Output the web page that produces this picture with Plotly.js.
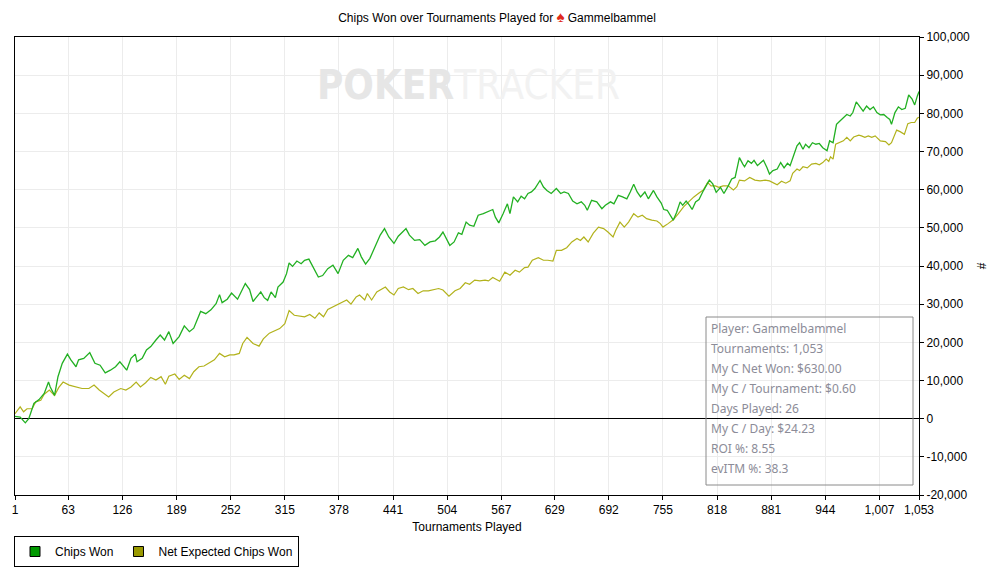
<!DOCTYPE html>
<html>
<head>
<meta charset="utf-8">
<script src="https://cdn.plot.ly/plotly-3.0.1.min.js"></script>
<style>
  html, body { margin: 0; padding: 0; background: #fff; }
</style>
</head>
<body>
<div id="chart" style="width:990px;height:580px;"></div>
<script>
// tournaments played (x) and chips won, in thousands
const chipsT = [
  1, 7, 13, 17, 19, 23, 29, 35, 40, 42,
  47, 51, 56, 62, 66, 72, 75, 81, 88, 94,
  100, 106, 112, 118, 123, 131, 136, 141, 143, 149,
  154, 159, 165, 170, 175, 180, 185, 192, 198, 204,
  209, 217, 223, 229, 235, 239, 242, 248, 253, 260,
  269, 274, 278, 282, 287, 291, 295, 299, 304, 307,
  313, 317, 320, 324, 329, 334, 338, 343, 348, 354,
  359, 365, 371, 377, 383, 389, 394, 400, 404, 409,
  414, 420, 426, 431, 436, 442, 447, 452, 456, 460,
  466, 472, 478, 484, 490, 495, 499, 507, 512, 517,
  521, 526, 530, 535, 540, 546, 551, 557, 560, 564,
  569, 574, 577, 581, 586, 590, 594, 598, 602, 606,
  612, 616, 620, 625, 631, 636, 640, 645, 650, 655,
  660, 664, 667, 672, 678, 684, 688, 694, 698, 703,
  708, 713, 717, 721, 725, 729, 734, 738, 744, 748,
  753, 756, 760, 764, 767, 771, 775, 778, 782, 786,
  789, 793, 797, 802, 809, 813, 817, 822, 826, 831,
  835, 839, 844, 848, 850, 854, 858, 861, 865, 868,
  872, 876, 879, 883, 888, 892, 896, 900, 903, 907,
  911, 914, 918, 921, 925, 929, 933, 937, 941, 946,
  949, 953, 957, 961, 965, 969, 973, 976, 980, 984,
  988, 992, 996, 1000, 1004, 1008, 1012, 1016, 1019, 1021,
  1025, 1029, 1033, 1037, 1041, 1045, 1048, 1051, 1053
];
const chipsWonK = [
  0.6, 0.4, -1.1, 0, 1.3, 4, 5, 6.6, 9.6, 8.3,
  6.1, 11, 14.5, 16.9, 15.4, 13.6, 15.4, 15.8, 17.3, 14.5,
  14, 12, 12.7, 13.6, 14.9, 12.7, 15.8, 16.9, 14.9, 15.8,
  18, 18.9, 20.6, 21.9, 20.6, 22.8, 19.7, 21.5, 24.3, 22.8,
  23.7, 28.1, 27.5, 28.5, 30.1, 32.5, 30.4, 31.3, 32.9, 31.3,
  35.4, 33.8, 30.7, 31.9, 33.2, 31.7, 31, 33.2, 31.7, 34.5,
  35.8, 38, 40.8, 39.9, 41.3, 40.6, 41.5, 41.8, 39.7, 37.1,
  37.5, 39.3, 40.2, 38, 41.5, 42.8, 42.2, 44.6, 42.4, 40.5,
  42, 45.2, 48.1, 49.8, 47.6, 45.9, 47.8, 48.9, 49.8, 48.1,
  46.7, 46.9, 45.4, 46.3, 46.6, 47.6, 48.9, 45.4, 46.3, 48.7,
  48.3, 51.5, 50.7, 50.4, 53.3, 53.7, 54.2, 54.8, 52.8, 51.3,
  53.7, 56.3, 53.7, 58.1, 56.8, 58.3, 57.6, 59, 59.4, 60.3,
  62.4, 60.7, 59.8, 59, 60.3, 59, 59.4, 59, 57, 56.3,
  56.8, 55.9, 54.6, 57.2, 56.8, 55, 55.9, 56.8, 56.3, 58.5,
  58.1, 57.6, 59.4, 61.4, 59.4, 58.1, 59.4, 57.6, 59.8, 58.1,
  56.5, 54.8, 54.6, 53.3, 52, 54.1, 56.8, 55.9, 57, 55.9,
  54.8, 56.8, 57.4, 59.7, 62.5, 61.5, 59.3, 60.6, 59, 61,
  62.8, 63.2, 68.4, 66.7, 66, 67.6, 66.9, 67.7, 66.3, 66.9,
  67.7, 65.8, 64.1, 65, 65.4, 67.1, 65.7, 66.9, 66.3, 68.9,
  71.5, 72.3, 70.6, 71.9, 71, 72.3, 71.9, 72.1, 71, 70.2,
  72.8, 72.3, 77.1, 78, 78.9, 79.7, 79.3, 80.2, 83, 81.9,
  80.6, 81.9, 81, 81.7, 80.2, 79.6, 79.7, 78.9, 78.4, 77.1,
  80.2, 81.7, 81, 81.3, 84.8, 83.7, 82.2, 84.5, 85.7
];

// net expected chips won, in thousands
const evT = [
  1, 7, 11, 15, 21, 25, 31, 35, 41, 47,
  52, 57, 64, 72, 79, 87, 93, 99, 105, 110,
  116, 124, 130, 136, 142, 147, 153, 159, 165, 171,
  176, 180, 187, 192, 198, 204, 209, 215, 221, 227,
  233, 239, 245, 251, 256, 262, 266, 271, 278, 285,
  290, 297, 303, 309, 315, 320, 326, 332, 338, 344,
  350, 355, 360, 365, 371, 376, 381, 387, 392, 398,
  402, 408, 411, 416, 422, 427, 432, 437, 442, 447,
  453, 459, 464, 470, 476, 482, 488, 494, 499, 506,
  513, 519, 525, 530, 536, 542, 548, 552, 557, 565,
  571, 577, 583, 588, 594, 598, 603, 610, 616, 621,
  627, 631, 637, 643, 649, 655, 659, 663, 668, 674,
  680, 686, 691, 697, 700, 705, 710, 715, 721, 726,
  731, 736, 742, 748, 752, 755, 761, 767, 773, 779,
  785, 791, 797, 802, 807, 811, 816, 820, 825, 831,
  837, 841, 844, 850, 856, 862, 868, 874, 879, 883,
  888, 893, 898, 903, 906, 911, 914, 918, 923, 928,
  933, 937, 941, 945, 948, 950, 953, 956, 960, 965,
  969, 973, 977, 983, 986, 990, 994, 998, 1002, 1008,
  1014, 1018, 1021, 1027, 1031, 1036, 1040, 1044, 1048, 1051, 1053
];
const evChipsK = [
  1.3, 3.1, 1.8, 2.6, 2.6, 4.4, 4.8, 6.4, 7.5, 6.1,
  8.2, 9.6, 8.8, 8.3, 7.9, 7.9, 8.8, 7.5, 6.6, 5.7,
  7, 7.9, 7.5, 8.3, 9.6, 8.3, 9.4, 10.8, 10.1, 11,
  9, 11.1, 11.7, 10.3, 11.4, 10.5, 12.3, 13.6, 13.8, 14.5,
  15.4, 17.1, 16.2, 16.7, 16.7, 17.1, 19.7, 21.3, 19.7, 19,
  20.9, 22.4, 23, 23.6, 24.9, 28.3, 27.1, 26.9, 26.7, 27.3,
  26.3, 27.7, 26.7, 28.6, 29.3, 29.7, 30.4, 31.1, 30, 31.9,
  32.4, 31.1, 32.8, 31.1, 33.2, 33.8, 34.5, 33.2, 32.4, 34.1,
  34.5, 33.8, 34.1, 32.8, 33.5, 33.5, 33.7, 34.1, 33.7, 32.1,
  33.5, 34.1, 35.6, 35.2, 36.3, 36.1, 36.3, 36.1, 37, 36,
  38.4, 37.6, 38.9, 38.4, 39.6, 39.7, 41.5, 42.2, 41.5, 41.5,
  41.3, 44.1, 44.1, 44.8, 46.3, 47.2, 46.7, 47.6, 46.3, 48.6,
  50.2, 49.8, 48.9, 47.6, 49.3, 51.5, 50.2, 51.5, 53.7, 52.8,
  53.3, 52.4, 52, 51.8, 51.1, 50.2, 51.1, 52.1, 53.7, 55.5,
  56.8, 58.1, 59.1, 59.9, 61.9, 61, 61, 60.6, 61, 61,
  59.9, 60.8, 62.5, 62.3, 63.2, 62.5, 62.3, 62.5, 62.3, 61.9,
  61.3, 62.2, 61.7, 62.3, 64.3, 65.4, 65, 66, 65.7, 66.7,
  66.9, 66.5, 67.1, 68, 67.4, 68.6, 68, 71.9, 72.3, 72.8,
  73.7, 72.8, 73.8, 74.3, 74.1, 73.7, 74.1, 73.7, 74.1, 72.8,
  72.6, 71.7, 72.3, 75.6, 75.2, 74.5, 77.3, 77.6, 77.6, 78.7, 79
];

const xTickVals = [1, 63, 126, 189, 252, 315, 378, 441, 504, 567, 629, 692, 755, 818, 881, 944, 1007, 1053];
const xTickText = ["1", "63", "126", "189", "252", "315", "378", "441", "504", "567", "629", "692", "755", "818", "881", "944", "1,007", "1,053"];
const yTickVals = [-20000, -10000, 0, 10000, 20000, 30000, 40000, 50000, 60000, 70000, 80000, 90000, 100000];
const yTickText = ["-20,000", "-10,000", "0", "10,000", "20,000", "30,000", "40,000", "50,000", "60,000", "70,000", "80,000", "90,000", "100,000"];

const statsLines = [
  "Player: Gammelbammel",
  "Tournaments: 1,053",
  "My C Net Won: $630.00",
  "My C / Tournament: $0.60",
  "Days Played: 26",
  "My C / Day: $24.23",
  "ROI %: 8.55",
  "evITM %: 38.3"
];

const FONT = "Liberation Sans, Arial, sans-serif";

const traces = [
  {
    type: "scatter", mode: "lines", name: "Net Expected Chips Won",
    x: evT, y: evChipsK.map(v => v * 1000),
    line: {color: "#b2b21c", width: 1.2},
    showlegend: false, hoverinfo: "skip"
  },
  {
    type: "scatter", mode: "lines", name: "Chips Won",
    x: chipsT, y: chipsWonK.map(v => v * 1000),
    line: {color: "#22b022", width: 1.3},
    showlegend: false, hoverinfo: "skip"
  },
  // legend swatches (square boxes like the original)
  {
    type: "scatter", mode: "markers", name: "Chips Won",
    x: [null], y: [null],
    marker: {symbol: "square", size: 10, color: "#009900", line: {color: "#000", width: 1}}
  },
  {
    type: "scatter", mode: "markers", name: "Net Expected Chips Won",
    x: [null], y: [null],
    marker: {symbol: "square", size: 10, color: "#999900", line: {color: "#000", width: 1}}
  }
];

// plot area in pixels: left 15, right 919, top 37, bottom 495
const py = y => (495 - y) / 458;
const px = x => (x - 15) / 904;

const statsNotes = statsLines.map((s, i) => ({
  text: s, xref: "paper", yref: "paper",
  x: px(709), y: py(328 + i * 20), xanchor: "left", yanchor: "middle",
  showarrow: false, font: {family: "Noto Sans, sans-serif", size: 12, color: "#8c8c98"}
}));

const layout = {
  width: 990, height: 580,
  margin: {l: 15, r: 71, t: 37, b: 85},
  paper_bgcolor: "#fff", plot_bgcolor: "#fff",
  font: {family: FONT, size: 12, color: "#000"},
  title: {
    text: "Chips Won over Tournaments Played for <span style='color:#e02a1a;font-size:15px'>♠</span> Gammelbammel",
    xref: "container", x: 0.502, y: 1 - 18 / 580, yanchor: "middle",
    font: {family: FONT, size: 12, color: "#000"}
  },
  xaxis: {
    range: [1, 1053],
    tickvals: xTickVals, ticktext: xTickText,
    ticks: "outside", ticklen: 4, tickcolor: "#000",
    showline: true, linecolor: "#000", linewidth: 1, mirror: true,
    showgrid: true, gridcolor: "#ececec", zeroline: false,
    tickfont: {family: FONT, size: 12},
    title: {text: "Tournaments Played", standoff: 6, font: {family: FONT, size: 12}}
  },
  yaxis: {
    side: "right",
    range: [-20000, 100000],
    tickvals: yTickVals, ticktext: yTickText,
    ticks: "outside", ticklen: 4, tickcolor: "#000",
    showline: true, linecolor: "#000", linewidth: 1, mirror: true,
    showgrid: true, gridcolor: "#ececec",
    zeroline: true, zerolinecolor: "#000", zerolinewidth: 1,
    tickfont: {family: FONT, size: 12},
    title: {text: "#", standoff: 8, font: {family: FONT, size: 12}}
  },
  legend: {
    orientation: "h", x: px(14), xanchor: "left", y: py(536), yanchor: "top",
    bordercolor: "#000", borderwidth: 1, bgcolor: "#fff",
    font: {family: FONT, size: 12}, itemwidth: 30
  },
  shapes: [
    {type: "rect", xref: "paper", yref: "paper",
     x0: px(706), x1: px(913), y0: py(317), y1: py(485),
     line: {color: "#8a8a8a", width: 1}, fillcolor: "rgba(0,0,0,0)"}
  ],
  annotations: [
    {
      text: "<b>POKER</b><span style='color:#f2f2f2'>TRACKER</span>",
      xref: "paper", yref: "paper", x: px(469), y: py(85),
      xanchor: "center", yanchor: "middle", showarrow: false,
      font: {family: "DejaVu Sans Condensed, Liberation Sans Narrow, sans-serif", size: 40, color: "#e6e6e6"}
    },
    ...statsNotes
  ]
};

Plotly.newPlot("chart", traces, layout, {displayModeBar: false, staticPlot: true});
</script>
</body>
</html>
